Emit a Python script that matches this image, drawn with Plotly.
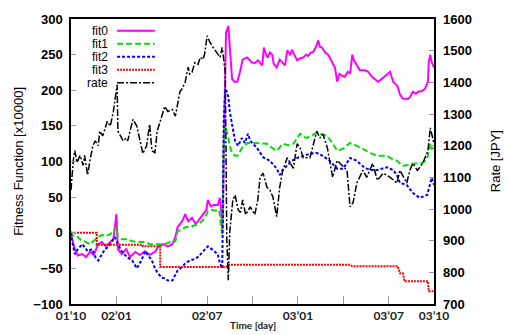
import plotly.graph_objects as go

# ---- series data (trading-day index, value) ----
fit0_day = [0, 1, 5, 9, 15, 20, 25, 30, 36, 41, 46, 52, 56, 58, 60, 61, 62, 67, 73, 78, 85, 91, 98, 104,
            111, 115, 122, 128, 134, 138, 141, 147, 151, 155, 160, 165, 171, 175, 179, 181, 185, 189, 194,
            197, 198, 200, 201, 202, 204, 205,
            208, 210, 213, 216, 220, 224, 227, 233, 237, 239, 243, 247, 253, 255, 258, 260, 263, 266, 268,
            272, 276, 279, 283, 286, 290, 292, 295, 299, 303, 307, 311, 313, 317, 320, 324, 327, 329, 332,
            336, 340, 342, 346, 349, 352, 355, 359, 362, 366, 369, 372, 374, 377, 382, 389, 393, 398, 402,
            406, 411, 415, 419, 422, 426, 430, 432, 435, 439, 442, 446, 448, 452, 456, 459, 464, 468, 472,
            473, 475, 477, 480]
fit0_val = [-3, -6, -23, -32, -30, -34, -27, -31, -16, -13, -19, -13, -9, 8, 26, 2, -23, -30, -23, -34, -27,
            -31, -26, -31, -27, -20, -16, -19, -16, -6, 8, 16, 26, 16, 21, 12, 21, 26, 32, 46, 37, 39, 39,
            49, 39, 5, 26, 115, 239, 281,
            290, 260, 216, 212, 212, 228, 243, 246, 242, 239, 238, 242, 235, 260, 250, 246, 253, 250,
            237, 232, 243, 239, 235, 256, 249, 257, 250, 242, 245, 246, 250, 248, 253, 253, 261, 270, 261,
            260, 253, 250, 246, 237, 232, 212, 223, 220, 219, 226, 223, 250, 242, 237, 228, 228, 226, 219,
            216, 212, 216, 219, 223, 226, 212, 208, 205, 194, 188, 188, 188, 190, 198, 195, 198, 199, 202,
            212, 239, 250, 239, 232]

fit1_day = [0, 1, 5, 9, 15, 18, 25, 32, 36, 41, 45, 52, 55, 60, 62, 67, 74, 81, 89, 98, 104, 111, 118, 124,
            131, 138, 141, 147, 152, 157, 163, 168, 173, 177, 181, 186, 192, 196, 198, 200,
            201, 202, 204, 206, 208, 210, 213, 217, 220, 224, 226, 230, 233,
            237, 250, 259, 266, 272, 280, 287, 294, 303, 307, 312, 319, 325, 332, 339, 346, 352, 360, 369,
            378, 385, 391, 398, 405, 411, 418, 424, 431, 439, 446, 452, 459, 465, 471, 475, 477, 480]
fit1_val = [2, -2, -6, -6, -12, -12, -16, -9, -6, -3, -5, -2, 2, 8, -6, -9, -9, -12, -13, -13, -16, -16,
            -16, -16, -13, -12, 2, 5, 8, 8, 10, 12, 16, 21, 30, 32, 31, 32, 12, -2,
            60, 129, 150, 143, 133, 122, 112, 108, 108, 115, 119, 122, 126,
            126, 126, 125, 119, 115, 125, 123, 125, 139, 135, 133, 137, 140, 138, 136, 125, 115, 118, 126,
            122, 118, 115, 111, 108, 108, 108, 104, 101, 94, 95, 97, 97, 98, 104, 125, 118, 119]

fit2_day = [0, 1, 5, 9, 15, 18, 22, 28, 32, 36, 41, 45, 49, 54, 58, 62, 67, 74, 81, 87, 93, 98, 103, 107,
            111, 115, 120, 124, 128, 134, 138, 141, 147, 151, 157, 163, 168, 175, 181, 186, 190, 194, 197,
            200, 201, 202, 204, 206, 208, 210, 213, 217, 221, 224, 226, 230, 234,
            237, 246, 254, 263, 272, 276, 280, 286, 292, 299, 307, 316, 325, 333, 342, 352, 360, 369, 378,
            385, 391, 398, 405, 411, 418, 426, 431, 435, 444, 452, 461, 471, 475, 477, 480]
fit2_val = [0, -9, -30, -23, -16, -20, -26, -23, -34, -39, -30, -23, -20, -12, -6, -16, -26, -34, -39, -50,
            -39, -26, -34, -39, -50, -57, -63, -64, -67, -67, -59, -53, -48, -43, -39, -37, -34, -26, -19,
            -23, -27, -30, -43, -50, 46, 157, 202, 198, 191, 170, 152, 129, 122, 129, 133, 126, 139,
            129, 119, 106, 101, 90, 81, 88, 94, 101, 105, 108, 111, 112, 108, 101, 90, 90, 105, 101,
            94, 90, 88, 88, 90, 92, 88, 81, 70, 67, 56, 49, 53, 67, 77, 67]

fit3_day = [0, 34, 34, 95, 95, 118, 118, 205, 208, 369, 372, 432, 435, 439, 441, 472, 473, 480]
fit3_val = [0, 0, -17, -17, -19, -19, -48, -48, -45, -45, -47, -47, -57, -57, -68, -68, -82, -82]

rate_day = [0, 3, 5, 8, 12, 16, 18, 22, 25, 29, 32, 36, 38, 42, 48, 52, 56, 58, 61, 62, 65, 69, 73, 75,
            78, 82, 87, 91, 95, 100, 104, 107, 111, 114, 118, 122, 124, 128, 134, 138, 142, 144, 147, 151,
            155, 157, 160, 164, 168, 171, 175, 177, 180, 184, 188, 193, 197, 200, 202, 204, 205, 206, 208,
            209, 210, 214, 217, 221, 224, 227, 231,
            237, 243, 247, 250, 254, 259, 263, 267, 272, 276, 280, 286, 290, 294, 299, 303, 307, 316, 325,
            329, 333, 339, 342, 346, 352, 356, 365, 369, 373, 378, 386, 391, 399, 405, 413, 422, 431, 435,
            444, 448, 452, 458, 465, 472, 475, 477, 480]
rate_val = [1060, 1153, 1184, 1147, 1169, 1138, 1169, 1107, 1153, 1200, 1215, 1200, 1246, 1231, 1277, 1262,
            1308, 1339, 1392, 1246, 1231, 1215, 1224, 1215, 1246, 1283, 1262, 1215, 1175, 1200, 1268, 1184,
            1178, 1246, 1277, 1314, 1324, 1308, 1314, 1293, 1339, 1370, 1380, 1401, 1448, 1426, 1432, 1463,
            1457, 1479, 1473, 1494, 1547, 1525, 1510, 1494, 1479, 1510, 1463, 1432, 1184, 905, 775, 843, 930,
            1029, 1044, 998, 989, 1029, 982,
            1007, 982, 1029, 1100, 1113, 1069, 1060, 1038, 976, 1069, 1122, 1162, 1144, 1128, 1206, 1193,
            1162, 1162, 1246, 1224, 1237, 1193, 1153, 1100, 1153, 1144, 1122, 1007, 1020, 1082, 1122, 1100,
            1144, 1091, 1113, 1100, 1082, 1122, 1082, 1122, 1144, 1122, 1144, 1184, 1256, 1237, 1206]

# ---- axis labels ----
tick_days = [0, 60, 120, 180, 240, 300, 360, 420, 480]
tick_text = ["01’10", "02’01", "", "02’07", "", "03’01", "", "03’07", "03’10"]
left_ticks = [-100, -50, 0, 50, 100, 150, 200, 250, 300]
right_ticks = [700, 800, 900, 1000, 1100, 1200, 1300, 1400, 1500, 1600]

series_names = ["fit0", "fit1", "fit2", "fit3", "rate"]
series_colors = ["#ff00ff", "#00e000", "#0000ff", "#ff0000", "#000000"]
series_dash = ["solid", "6px,3px", "3px,2px", "2px,1px", "7px,2px,2px,2px"]
series_width = [2, 2, 2, 2, 1.5]

fig = go.Figure()
fit_data = [(fit0_day, fit0_val), (fit1_day, fit1_val), (fit2_day, fit2_val), (fit3_day, fit3_val)]
for i, (d, v) in enumerate(fit_data):
    fig.add_trace(go.Scatter(x=d, y=v, mode="lines", name=series_names[i], showlegend=False,
                             line=dict(color=series_colors[i], dash=series_dash[i], width=series_width[i])))
fig.add_trace(go.Scatter(x=rate_day, y=rate_val, mode="lines", name="rate", yaxis="y2", showlegend=False,
                         line=dict(color=series_colors[4], dash=series_dash[4], width=series_width[4])))

num_font = dict(family="Liberation Sans, Arial", size=13, color="black", weight="bold")

fig.update_layout(
    width=510, height=335,
    margin=dict(l=71, r=76, t=16, b=29),
    paper_bgcolor="white", plot_bgcolor="white",
    xaxis=dict(range=[0, 480], tickvals=tick_days, ticktext=tick_text,
               ticks="inside", ticklen=8, tickcolor="#999999", tickwidth=1,
               showline=True, linecolor="black", linewidth=1.5, mirror=True,
               showgrid=False, zeroline=False,
               tickfont=dict(family="Lato", size=12, color="#222222", weight="bold")),
    yaxis=dict(range=[-100, 300], tickvals=left_ticks, ticks="inside", ticklen=5, tickcolor="#999999",
               showline=True, linecolor="black", linewidth=1.5, mirror=True,
               showgrid=False, zeroline=False, tickfont=num_font, ticklabelstandoff=4),
    yaxis2=dict(range=[700, 1600], tickvals=right_ticks, overlaying="y", side="right",
                ticks="inside", ticklen=5, tickcolor="#999999",
                showline=False, showgrid=False, zeroline=False, tickfont=num_font,
                ticklabelstandoff=8),
)

annotations = [
    dict(text="Fitness Function [x10000]", x=-0.145, y=0.5, xref="paper", yref="paper",
         textangle=-90, showarrow=False, xanchor="center", yanchor="middle",
         font=dict(family="Liberation Sans, Arial", size=13, color="black")),
    dict(text="Rate [JPY]", x=1.17, y=0.5, xref="paper", yref="paper",
         textangle=-90, showarrow=False, xanchor="center", yanchor="middle",
         font=dict(family="Liberation Sans, Arial", size=13, color="black")),
    dict(text="Time [day]", x=0.5, y=-0.072, xref="paper", yref="paper",
         showarrow=False, xanchor="center", yanchor="middle",
         font=dict(family="Lato", size=10, color="#222222", weight="bold")),
]

# legend drawn inside the plot: label on the left, line sample on the right
shapes = []
for i, name in enumerate(series_names):
    row_y = 1 - (12 + 13.2 * i) / 290
    annotations.append(dict(text=name, x=0.1074, y=row_y, xref="paper", yref="paper",
                            showarrow=False, xanchor="right", yanchor="middle",
                            font=dict(family="Liberation Sans, Arial", size=12, color="black")))
    shapes.append(dict(type="line", xref="paper", yref="paper", x0=0.127, x1=0.231, y0=row_y, y1=row_y,
                       line=dict(color=series_colors[i], dash=series_dash[i], width=series_width[i])))

fig.update_layout(annotations=annotations, shapes=shapes)
fig.write_html("out.html")
